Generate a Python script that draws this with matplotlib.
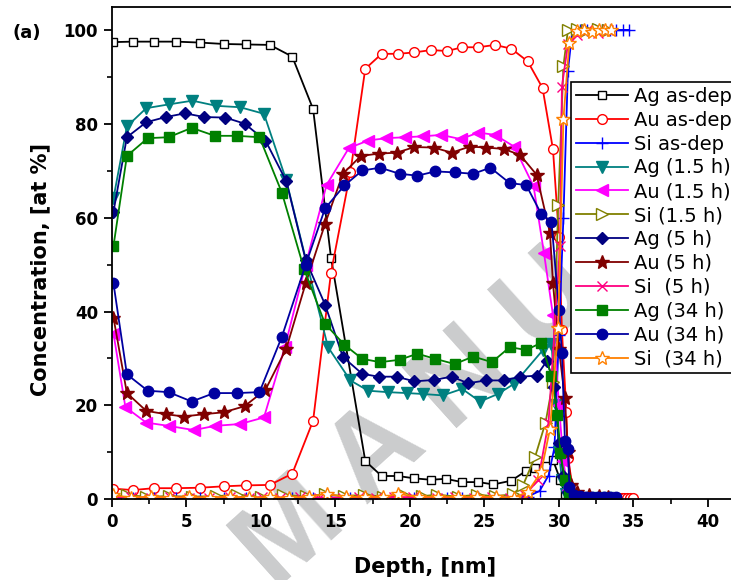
import matplotlib
matplotlib.use('Agg')
import matplotlib.pyplot as plt
import numpy as np
from matplotlib.ticker import MultipleLocator

# depth profiles, x in nm, y in at %
ag_asdep_x = [0.1, 1.4, 2.8, 4.3, 5.9, 7.5, 9.0, 10.6, 12.1, 13.5, 14.7, 17.0, 18.1, 19.2, 20.3, 21.4, 22.4, 23.5,
              24.6, 25.6, 26.8, 27.8, 28.4, 29.1, 29.6, 30.1, 30.4, 30.8, 31.5, 32.5, 33.5]
ag_asdep_y = [97.5, 97.6, 97.6, 97.6, 97.4, 97.1, 97.0, 96.9, 94.4, 83.2, 51.5, 8.1, 4.9, 4.9, 4.4, 4.1, 4.3, 3.6,
              3.6, 3.1, 3.9, 6.0, 6.6, 7.0, 8.3, 4.0, 1.0, 0.3, 0.2, 0.2, 0.2]

au_asdep_x = [0.1, 1.4, 2.8, 4.3, 5.9, 7.5, 9.0, 10.6, 12.1, 13.5, 14.7, 16.0, 17.0, 18.1, 19.2, 20.3, 21.4, 22.5,
              23.5, 24.6, 25.7, 26.8, 27.9, 28.9, 29.6, 30.0, 30.2, 30.5, 30.6, 31.0, 31.4, 31.8, 32.2, 32.6, 33.0,
              33.4, 33.7, 34.0, 34.2, 34.4, 34.6, 34.8, 35.0]
au_asdep_y = [2.2, 1.9, 2.3, 2.3, 2.4, 2.7, 2.9, 3.0, 5.4, 16.7, 48.3, 69.7, 91.8, 95.0, 95.0, 95.3, 95.8, 95.6,
              96.4, 96.4, 96.9, 96.1, 93.4, 87.7, 74.6, 56.0, 36.0, 18.5, 8.8, 1.0, 0.6, 0.5, 0.5, 0.4, 0.4,
              0.4, 0.3, 0.3, 0.3, 0.3, 0.3, 0.3, 0.3]

si_asdep_x = [0.1, 1.4, 2.8, 4.3, 5.9, 7.5, 9.0, 10.6, 12.1, 13.5, 14.7, 16.0, 17.0, 18.1, 19.2, 20.3, 21.4, 22.5,
              23.5, 24.6, 25.7, 26.8, 27.9, 28.7, 29.3, 29.7, 30.0, 30.3, 30.6, 30.9, 31.4, 31.9, 32.4, 32.9,
              33.4, 33.8, 34.3, 34.7]
si_asdep_y = [0.3, 0.2, 0.3, 0.2, 0.3, 0.2, 0.3, 0.3, 0.3, 0.2, 0.3, 0.2, 0.3, 0.2, 0.3, 0.3, 0.4, 0.3,
              0.3, 0.4, 0.3, 0.3, 0.5, 1.7, 5.0, 11.0, 35.0, 60.0, 91.3, 99.9, 100.0, 100.0, 100.0, 100.0,
              100.0, 100.1, 100.1, 100.1]

ag_15_x = [0.1, 1.0, 2.3, 3.8, 5.4, 7.0, 8.6, 10.2, 11.7, 13.1, 14.5, 16.0, 17.2, 18.5, 19.8, 20.9, 22.2, 23.5,
           24.7, 25.9, 27.0, 28.9, 29.5, 29.8, 30.0, 30.2, 30.5, 30.8, 31.5, 32.5, 33.3]
ag_15_y = [64.2, 79.5, 83.4, 84.2, 85.0, 83.9, 83.6, 82.2, 68.0, 50.0, 32.4, 25.3, 23.1, 22.8, 22.6, 22.4, 22.1, 23.5,
           20.8, 22.4, 24.6, 31.7, 33.0, 20.0, 10.0, 4.0, 1.0, 0.4, 0.3, 0.2, 0.2]

au_15_x = [0.1, 0.9, 2.3, 3.8, 5.5, 6.9, 8.6, 10.2, 11.6, 13.0, 14.4, 15.9, 17.2, 18.4, 19.7, 20.9, 22.1, 23.4,
           24.6, 25.7, 27.0, 28.3, 29.0, 29.6, 30.0, 30.3, 30.6, 31.0, 31.8, 32.6, 33.3]
au_15_y = [35.3, 19.6, 16.3, 15.6, 14.7, 15.6, 16.0, 17.4, 32.4, 50.0, 67.0, 74.9, 76.5, 77.0, 77.2, 77.4, 77.7, 76.8,
           78.2, 77.7, 75.2, 66.7, 52.4, 39.2, 20.0, 8.0, 2.0, 0.5, 0.3, 0.2, 0.2]

si_15_x = [0.1, 1.0, 2.3, 3.8, 5.4, 7.0, 8.4, 10.0, 11.5, 13.0, 14.3, 15.6, 16.9, 18.2, 19.6, 20.8, 21.8, 23.2,
           24.5, 25.7, 26.9, 27.6, 28.4, 29.1, 29.6, 29.95, 30.3, 30.6, 31.2, 31.9, 32.6, 33.3]
si_15_y = [0.6, 0.8, 0.5, 0.6, 0.5, 0.6, 0.9, 0.5, 0.8, 0.6, 1.0, 0.6, 0.9, 0.5, 0.8, 0.6, 0.9, 0.5,
           0.9, 0.6, 1.0, 3.0, 9.0, 16.3, 25.0, 62.7, 92.4, 100.0, 100.2, 100.0, 100.2, 100.0]

ag_5_x = [0.1, 1.0, 2.3, 3.6, 4.9, 6.2, 7.6, 8.9, 10.3, 11.7, 13.0, 14.3, 15.5, 16.8, 17.9, 19.1, 20.3, 21.6,
          22.8, 23.9, 25.1, 26.3, 27.4, 28.5, 29.2, 29.7, 30.0, 30.3, 30.6, 31.0, 31.8, 32.6, 33.3]
ag_5_y = [61.3, 77.2, 80.4, 81.5, 82.3, 81.5, 81.4, 80.1, 76.5, 67.8, 51.0, 41.5, 30.3, 26.7, 26.1, 26.1, 25.1, 25.4,
          26.1, 24.7, 25.3, 25.3, 26.1, 26.3, 29.5, 24.0, 12.0, 5.0, 1.5, 0.5, 0.3, 0.2, 0.2]

au_5_x = [0.1, 1.0, 2.3, 3.6, 4.8, 6.2, 7.5, 8.9, 10.3, 11.7, 13.0, 14.3, 15.5, 16.7, 17.9, 19.1, 20.3, 21.6,
          22.8, 24.0, 25.1, 26.3, 27.4, 28.5, 29.4, 29.6, 30.0, 30.4, 30.6, 30.8, 31.2, 32.0, 32.7, 33.3]
au_5_y = [38.7, 22.6, 18.8, 18.1, 17.6, 18.1, 18.5, 19.8, 23.3, 32.1, 46.0, 58.7, 69.4, 73.2, 73.7, 73.9, 75.1, 75.0,
          73.9, 75.2, 75.0, 74.7, 73.4, 69.2, 56.7, 46.0, 32.0, 21.5, 10.0, 3.0, 1.5, 0.8, 0.6, 0.5]

si_5_x = [0.1, 1.3, 2.6, 3.9, 5.2, 6.5, 7.9, 9.2, 10.1, 11.3, 12.6, 13.9, 15.5, 16.6, 17.7, 18.9, 20.2, 21.8,
          23.0, 24.3, 25.5, 26.7, 27.7, 28.6, 29.3, 30.07, 30.2, 30.6, 31.2, 31.9, 32.6, 33.3]
si_5_y = [0.3, 0.4, 0.3, 0.4, 0.3, 0.3, 0.4, 0.3, 0.4, 0.3, 0.4, 0.3, 0.3, 0.4, 0.3, 0.4, 0.4, 0.3,
          0.4, 0.3, 0.4, 0.3, 0.8, 4.0, 16.3, 53.9, 88.0, 97.0, 99.1, 100.0, 99.5, 100.0]

ag_34_x = [0.1, 1.0, 2.4, 3.8, 5.35, 6.9, 8.4, 9.9, 11.4, 12.9, 14.3, 15.6, 16.8, 18.0, 19.3, 20.5, 21.7, 23.0,
           24.25, 25.5, 26.7, 27.8, 28.8, 29.5, 29.9, 30.1, 30.4, 30.7, 31.2, 32.0, 32.7, 33.3]
ag_34_y = [54.0, 73.2, 77.0, 77.2, 79.2, 77.5, 77.5, 77.2, 65.4, 49.0, 37.4, 32.9, 29.9, 29.2, 29.7, 31.0, 29.9, 28.8,
           30.4, 29.2, 32.4, 31.8, 33.3, 26.3, 18.0, 9.9, 4.0, 1.0, 0.4, 0.3, 0.2, 0.2]

au_34_x = [0.1, 1.0, 2.4, 3.8, 5.35, 6.85, 8.4, 9.9, 11.4, 13.0, 14.3, 15.6, 16.8, 18.0, 19.3, 20.5, 21.7, 23.0,
           24.25, 25.4, 26.7, 27.8, 28.8, 29.5, 30.0, 30.2, 30.4, 30.6, 30.7, 31.0, 31.4, 31.8, 32.2, 32.6, 33.0,
           33.4, 33.8]
au_34_y = [46.0, 26.6, 23.1, 22.8, 20.8, 22.6, 22.6, 22.8, 34.6, 50.0, 62.0, 66.9, 70.1, 70.7, 69.4, 69.0, 69.9, 69.7,
           69.4, 70.7, 67.4, 67.0, 60.9, 59.1, 40.4, 31.2, 12.4, 10.6, 2.6, 0.8, 0.6, 0.5, 0.5, 0.5, 0.4,
           0.4, 0.4]

si_34_x = [0.1, 1.3, 2.6, 3.9, 5.2, 6.6, 7.9, 9.2, 10.6, 11.9, 13.2, 14.4, 15.7, 17.0, 18.2, 19.2, 20.6, 21.9,
           23.2, 24.5, 25.8, 27.0, 27.9, 28.8, 29.4, 29.95, 30.3, 30.7, 31.2, 31.7, 32.2, 32.7, 33.1, 33.5]
si_34_y = [0.8, 0.3, 0.5, 0.3, 0.4, 0.3, 0.5, 0.3, 0.4, 0.3, 0.5, 1.1, 0.4, 0.5, 0.4, 1.1, 0.4, 0.5,
           0.4, 0.5, 0.4, 0.3, 1.5, 5.7, 15.0, 36.5, 81.1, 97.4, 99.8, 100.0, 99.7, 100.1, 100.0, 100.0]

# label, x, y, colour, marker, size, hollow
series = [
    ('Ag as-dep', ag_asdep_x, ag_asdep_y, 'black', 's', 6, True),
    ('Au as-dep', au_asdep_x, au_asdep_y, '#ff0000', 'o', 7, True),
    ('Si as-dep', si_asdep_x, si_asdep_y, '#0000ff', '+', 8, False),
    ('Ag (1.5 h)', ag_15_x, ag_15_y, '#008080', 'v', 8, False),
    ('Au (1.5 h)', au_15_x, au_15_y, '#ff00ff', '<', 8, False),
    ('Si (1.5 h)', si_15_x, si_15_y, '#808000', '>', 8, True),
    ('Ag (5 h)', ag_5_x, ag_5_y, '#000080', 'D', 6.5, False),
    ('Au (5 h)', au_5_x, au_5_y, '#800000', '*', 10, False),
    ('Si  (5 h)', si_5_x, si_5_y, '#ff0080', 'x', 6.5, False),
    ('Ag (34 h)', ag_34_x, ag_34_y, '#008000', 's', 6.5, False),
    ('Au (34 h)', au_34_x, au_34_y, '#0000a0', 'o', 7.5, False),
    ('Si  (34 h)', si_34_x, si_34_y, '#ff8000', '*', 10, True),
]

fig = plt.figure(figsize=(7.31, 5.80), dpi=100)
ax = fig.add_axes([0.1532, 0.1397, 0.856, 0.8483])

for label, xs, ys, color, marker, size, hollow in series:
    ax.plot(xs, ys, color=color, lw=1.3, marker=marker, markersize=size,
            markerfacecolor='white' if hollow else color, markeredgecolor=color,
            markeredgewidth=1.0, label=label, zorder=2)

# background watermark, one letter at a time along a slanted line
wm_angle = 42
wm_step = 115 / 731
start_x, start_y = 290 / 731, 1 - 530 / 580
dx = wm_step * np.cos(np.radians(wm_angle))
dy = wm_step * np.sin(np.radians(wm_angle)) * 731 / 580
for i, ch in enumerate('MANU'):
    ax.text(start_x + i * dx, start_y + i * dy, ch, transform=fig.transFigure,
            rotation=wm_angle, rotation_mode='anchor', ha='center', va='center',
            fontsize=86, fontweight='bold', family='Liberation Sans',
            color='#cbcccd', clip_on=False, zorder=0.5)

ax.set_xlim(0, 42)
ax.set_ylim(0, 105)
ax.xaxis.set_major_locator(MultipleLocator(5))
ax.xaxis.set_minor_locator(MultipleLocator(2.5))
ax.yaxis.set_major_locator(MultipleLocator(20))
ax.yaxis.set_minor_locator(MultipleLocator(10))
ax.tick_params(which='major', direction='out', length=6, width=1.3, labelsize=12, pad=4)
ax.tick_params(which='minor', direction='out', length=3.5, width=1.2)
for lab in ax.get_xticklabels() + ax.get_yticklabels():
    lab.set_fontweight('bold')
for sp in ax.spines.values():
    sp.set_linewidth(1.3)

fig.text(425 / 731, 1 - 567 / 580, 'Depth, [nm]', ha='center', va='center',
         fontsize=15, fontweight='bold')
fig.text(40 / 731, 1 - 270 / 580, 'Concentration, [at %]', ha='center', va='center',
         rotation=90, fontsize=15, fontweight='bold')
fig.text(12 / 731, 1 - 33 / 580, '(a)', ha='left', va='center', fontsize=13, fontweight='bold')

leg = ax.legend(loc='upper left', bbox_to_anchor=(571 / 731, 1 - 82 / 580),
                bbox_transform=fig.transFigure, fontsize=14, frameon=True, fancybox=False,
                framealpha=1, edgecolor='black', borderpad=0.25, borderaxespad=0,
                labelspacing=0.25, handlelength=2.7, handletextpad=0.3)
leg.get_frame().set_linewidth(1.2)
leg.set_zorder(5)

fig.savefig('out.png', dpi=100)
